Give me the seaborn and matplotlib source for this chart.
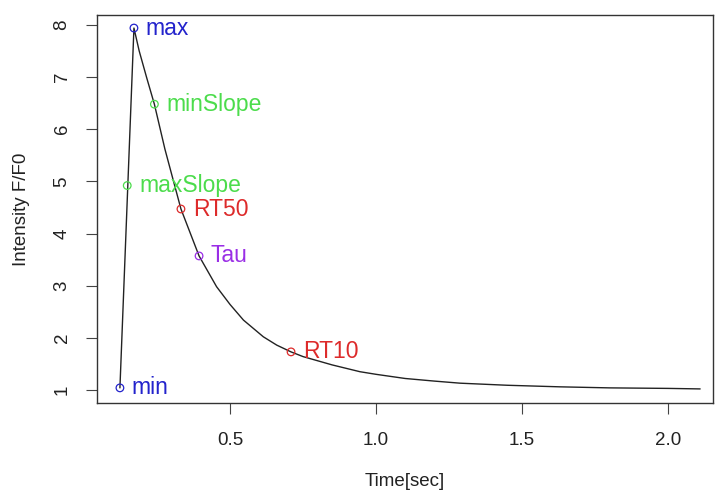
import matplotlib
matplotlib.use("Agg")
import matplotlib.pyplot as plt
import seaborn as sns
import pandas as pd

# Curve
time_s = [0.123, 0.171, 0.189, 0.215, 0.241, 0.277, 0.332, 0.394, 0.454, 0.50, 0.546,
          0.614, 0.66, 0.709, 0.75, 0.85, 0.945, 1.00, 1.10, 1.20, 1.288,
          1.45, 1.63, 1.80, 2.00, 2.11]
intensity = [1.04, 7.94, 7.50, 6.98, 6.48, 5.62, 4.47, 3.57, 2.98, 2.64, 2.34,
             2.02, 1.86, 1.73, 1.64, 1.48, 1.35, 1.30, 1.22, 1.17, 1.13,
             1.09, 1.06, 1.04, 1.03, 1.02]

# Annotated points
point_names = ["min", "max", "maxSlope", "minSlope", "RT50", "Tau", "RT10"]
point_x = [0.123, 0.171, 0.148, 0.241, 0.332, 0.394, 0.709]
point_y = [1.04, 7.94, 4.92, 6.48, 4.47, 3.57, 1.73]
point_colors = ["#2323cc", "#2323cc", "#4cdc4c", "#4cdc4c", "#dd2a2a", "#9a2ee6", "#dd2a2a"]

x_ticks = [0.5, 1.0, 1.5, 2.0]
y_ticks = [1, 2, 3, 4, 5, 6, 7, 8]

sns.set_style("white")
plt.rcParams["font.family"] = ["Liberation Sans", "DejaVu Sans"]

fig = plt.figure(figsize=(7.19, 4.95), dpi=100)
ax = fig.add_axes([97 / 719, 1 - 403 / 495, (713 - 97) / 719, (403 - 15) / 495])

curve = pd.DataFrame({"t": time_s, "v": intensity})
sns.lineplot(data=curve, x="t", y="v", sort=False, estimator=None,
             color="#222222", linewidth=1.0, ax=ax)

pts = pd.DataFrame({"x": point_x, "y": point_y, "name": point_names})
for (_, r), c in zip(pts.iterrows(), point_colors):
    sns.scatterplot(x=[r["x"]], y=[r["y"]], ax=ax, s=30, marker="o",
                    facecolors="none", edgecolor=c, linewidth=0.9, zorder=3)
    ax.annotate(r["name"], (r["x"], r["y"]), xytext=(8.5, 0),
                textcoords="offset points", color=c, fontsize=16.5,
                ha="left", va="center")

ax.set_xlim(0.0445, 2.154)
ax.set_ylim(0.75, 8.19)
ax.set_xticks(x_ticks)
ax.set_xticklabels([f"{v:.1f}" for v in x_ticks])
ax.set_yticks(y_ticks)
ax.set_yticklabels([str(v) for v in y_ticks], rotation=90, va="center")
ax.tick_params(axis="both", direction="out", length=8, width=0.8,
               colors="#444444", labelsize=13.5, labelcolor="#222222",
               left=True, bottom=True)
ax.tick_params(axis="x", pad=13)
ax.tick_params(axis="y", pad=11)
for sp in ax.spines.values():
    sp.set_visible(True)
    sp.set_color("#333333")
    sp.set_linewidth(1.0)

ax.set_xlabel("Time[sec]", fontsize=13.5, labelpad=17, color="#222222")
ax.set_ylabel("Intensity F/F0", fontsize=13.5, labelpad=17, color="#222222")

fig.savefig("out.png", dpi=100)
